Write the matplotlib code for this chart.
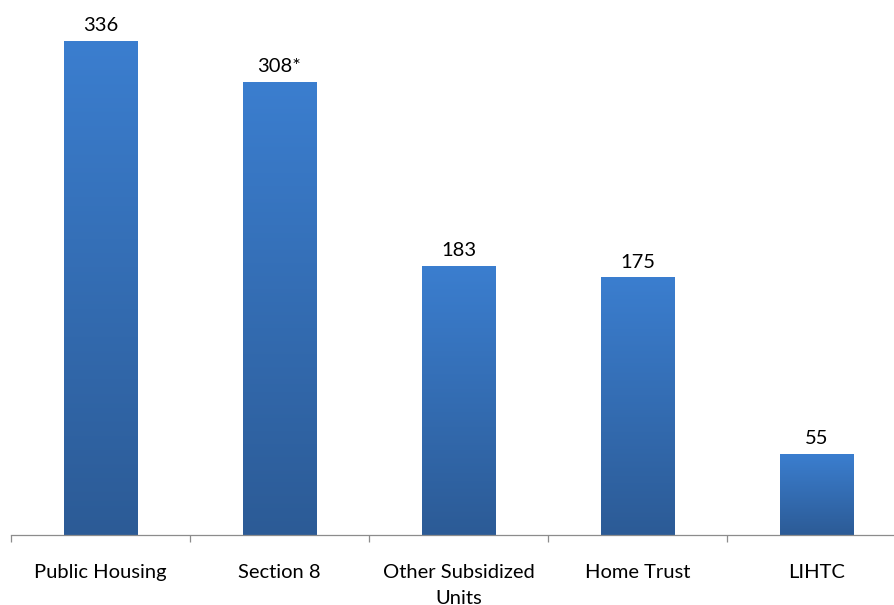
import numpy as np
import matplotlib.pyplot as plt
from matplotlib.colors import LinearSegmentedColormap

categories = ['Public Housing', 'Section 8', 'Other Subsidized\nUnits', 'Home Trust', 'LIHTC']
values = [336, 308, 183, 175, 55]
value_labels = ['336', '308*', '183', '175', '55']

plt.rcParams['font.family'] = ['Lato', 'DejaVu Sans']

fig = plt.figure(figsize=(8.95, 6.05), dpi=100)
ax = fig.add_axes([11 / 895, 70 / 605, 895 / 895, 535 / 605])

# vertical gradient, dark at bottom, light at top
cmap = LinearSegmentedColormap.from_list('bar', ['#2c5b96', '#3b7ecf'])
grad = np.linspace(0, 1, 256).reshape(-1, 1)
bar_w = 0.41
x = np.arange(len(categories))

for xi, v, lab in zip(x, values, value_labels):
    ax.imshow(grad, extent=(xi - bar_w / 2, xi + bar_w / 2, 0, v), origin='lower',
              cmap=cmap, aspect='auto', zorder=2)
    ax.annotate(lab, (xi, v), xytext=(0, 5), textcoords='offset points',
                ha='center', va='bottom', fontsize=14.5, color='black')

ax.set_xlim(-0.5, 4.5)
ax.set_ylim(0, 364)

for s in ['top', 'right', 'left']:
    ax.spines[s].set_visible(False)
ax.spines['bottom'].set_color('#8c8c8c')
ax.spines['bottom'].set_linewidth(0.9)

ax.set_yticks([])
ax.set_xticks(np.arange(-0.5, 5, 1.0))
ax.set_xticklabels([])
ax.set_xticks(x, minor=True)
ax.set_xticklabels(categories, minor=True, fontsize=14.5, linespacing=1.6)
ax.tick_params(axis='x', which='major', length=5, color='#8c8c8c', width=0.9)
ax.tick_params(axis='x', which='minor', length=0, pad=21)

fig.savefig('out.png', dpi=100)
